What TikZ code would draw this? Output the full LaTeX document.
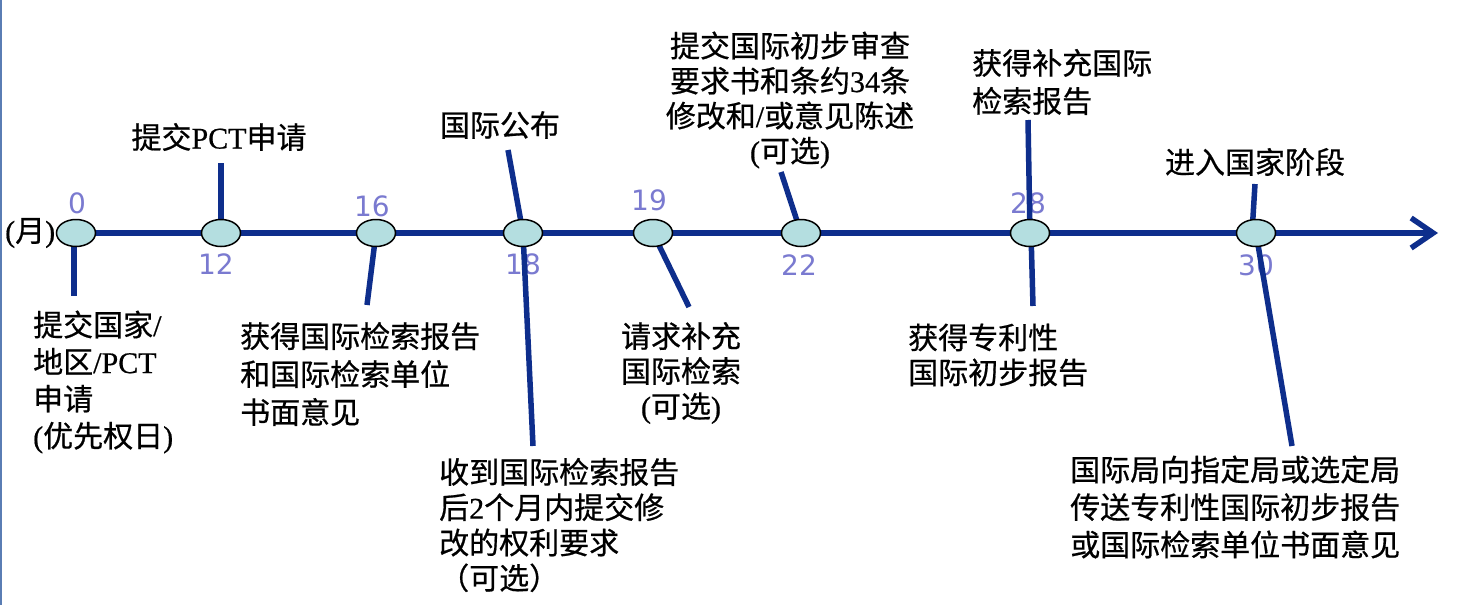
\documentclass[tikz,border=0pt]{standalone}
\usepackage{fontspec}
\setmainfont[FakeBold=0.6]{Liberation Serif}
\newfontfamily\cjk[FakeBold=0.6]{Noto Sans CJK SC}
\newfontfamily\numf{DejaVu Sans}
\newcommand{\lat}[1]{{\rmfamily #1}}
\usetikzlibrary{arrows.meta,shapes.geometric}
\definecolor{navy}{RGB}{14,46,140}
\definecolor{tealfill}{RGB}{180,222,224}
\definecolor{numc}{RGB}{122,122,208}
\definecolor{edgec}{RGB}{90,125,180}
\begin{document}
\begin{tikzpicture}[x=1pt,y=-1pt,
  evt/.style={ellipse, draw=black, line width=1.5pt, fill=tealfill, minimum width=39pt, minimum height=27pt, inner sep=0pt},
  num/.style={font=\numf\fontsize{28}{28}\selectfont, text=numc, inner sep=0pt},
  lbl/.style={font=\cjk\fontsize{30}{37}\selectfont, inner sep=0pt, align=left, text=black},
  conn/.style={draw=navy, line width=5.5pt},
  axisline/.style={draw=navy, line width=5.5pt, -{Straight Barb[length=22pt,width=30pt]}}
]
\useasboundingbox (0,0) rectangle (1459,605);
\fill[white] (0,0) rectangle (1459,605);
\draw[edgec, line width=2pt] (1,0) -- (1,605);

% month numbers
\node[num] (n0)  at (77,203)  {0};
\node[num] (n12) at (216,264) {12};
\node[num] (n16) at (372,206) {16};
\node[num] (n18) at (523,264) {18};
\node[num] (n19) at (649,200) {19};
\node[num] (n22) at (799,265) {22};
\node[num] (n28) at (1028,203) {28};
\node[num] (n30) at (1256,265) {30};

% coordinates on the axis
\coordinate (a0)  at (76,233);
\coordinate (a12) at (221,233);
\coordinate (a16) at (376,233);
\coordinate (a18) at (523,233);
\coordinate (a19) at (653,233);
\coordinate (a22) at (801,233);
\coordinate (a28) at (1030,233);
\coordinate (a30) at (1256,233);
\coordinate (tip) at (1438,233);

% free ends of connectors
\coordinate (e0d)  at (74,296);
\coordinate (e12u) at (221,163);
\coordinate (e16d) at (367,305);
\coordinate (e18u) at (508,150);
\coordinate (e18d) at (533,446);
\coordinate (e19d) at (689,307);
\coordinate (e22u) at (781,172);
\coordinate (e28u) at (1028,120);
\coordinate (e28d) at (1033,306);
\coordinate (e30u) at (1255,184);
\coordinate (e30d) at (1292,446);

% axis
\draw[axisline] (a0) -- (tip);

% connectors
\draw[conn] (74,233) -- (e0d);
\draw[conn] (a12) -- (e12u);
\draw[conn] (a16) -- (e16d);
\draw[conn] (a18) -- (e18u);
\draw[conn] (a18) -- (e18d);
\draw[conn] (a19) -- (e19d);
\draw[conn] (a22) -- (e22u);
\draw[conn] (a28) -- (e28u);
\draw[conn] (1031,233) -- (e28d);
\draw[conn] (1252,233) -- (e30u);
\draw[conn] (a30) -- (e30d);

% event ellipses
\node[evt] (m0)  at (a0)  {};
\node[evt] (m12) at (a12) {};
\node[evt] (m16) at (a16) {};
\node[evt] (m18) at (a18) {};
\node[evt] (m19) at (a19) {};
\node[evt] (m22) at (a22) {};
\node[evt] (m28) at (a28) {};
\node[evt] (m30) at (a30) {};

% labels
\node[lbl, anchor=west] (unit) at (5,233) {\lat{(}月\lat{)}};
\node[lbl] (t12) at (219,137) {提交\lat{PCT}申请};
\node[lbl, anchor=west] (t0) at (33,382) {提交国家\lat{/}\\地区\lat{/PCT}\\申请\\\lat{(}优先权日\lat{)}};
\node[lbl, anchor=west, font=\cjk\fontsize{30}{38}\selectfont] (t16) at (240,374) {获得国际检索报告\\和国际检索单位\\书面意见};
\node[lbl] (t18u) at (500,125) {国际公布};
\node[lbl, anchor=west, font=\cjk\fontsize{30}{35.3}\selectfont] (t18d) at (439,525) {收到国际检索报告\\后\lat{2}个月内提交修\\改的权利要求\\（可选）};
\node[lbl, align=center, font=\cjk\fontsize{30}{35}\selectfont] (t19) at (681,373) {请求补充\\国际检索\\\lat{(}可选\lat{)}};
\node[lbl, align=center, font=\cjk\fontsize{30}{35}\selectfont] (t22) at (790,100) {提交国际初步审查\\要求书和条约\lat{34}条\\修改和\lat{/}或意见陈述\\\lat{(}可选\lat{)}};
\node[lbl, anchor=west, font=\cjk\fontsize{30}{38}\selectfont] (t28u) at (972,82) {获得补充国际\\检索报告};
\node[lbl, anchor=west, font=\cjk\fontsize{30}{35}\selectfont] (t28d) at (908,355) {获得专利性\\国际初步报告};
\node[lbl] (t30u) at (1255,162) {进入国家阶段};
\node[lbl, anchor=west, font=\cjk\fontsize{30}{37.5}\selectfont] (t30d) at (1070,507) {国际局向指定局或选定局\\传送专利性国际初步报告\\或国际检索单位书面意见};
\end{tikzpicture}
\end{document}
